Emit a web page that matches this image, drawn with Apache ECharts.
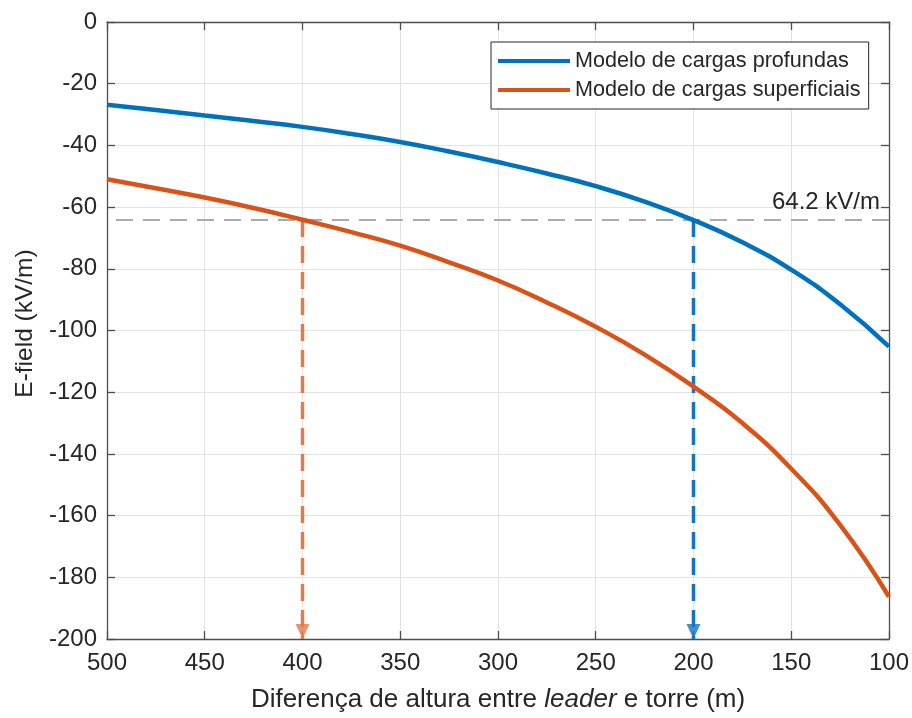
<!DOCTYPE html>
<html>
<head>
<meta charset="utf-8">
<script src="https://cdn.jsdelivr.net/npm/echarts@6/dist/echarts.min.js"></script>
<style>html,body{margin:0;padding:0;background:#fff}#c{width:912px;height:718px}</style>
</head>
<body>
<div id="c"></div>
<script>
// Data
const heights = [500, 475, 450, 425, 400, 375, 350, 325, 300, 275, 250, 225, 200, 175, 150, 125, 100];
const deepModel = [-26.8, -28.5, -30.3, -32.1, -34.0, -36.3, -38.9, -42.0, -45.4, -49.1, -53.2, -58.2, -64.2, -71.4, -80.3, -91.5, -105.2];
const surfaceModel = [-51.0, -53.9, -56.9, -60.3, -64.1, -68.1, -72.5, -77.9, -83.8, -90.9, -98.8, -107.8, -118.2, -130.0, -144.8, -163.0, -186.3];
const seriesNames = ['Modelo de cargas profundas', 'Modelo de cargas superficiais'];
const threshold = -64.2;
const thresholdLabel = '64.2 kV/m';
const crossSurface = 400;
const crossDeep = 200;
const xTicks = [500, 450, 400, 350, 300, 250, 200, 150, 100];
const yTicks = [0, -20, -40, -60, -80, -100, -120, -140, -160, -180, -200];

const xMin = Math.min(...xTicks), xMax = Math.max(...xTicks);
const yMin = Math.min(...yTicks), yMax = Math.max(...yTicks);

const BLUE = '#0072BD', ORANGE = '#D95319';
const BLUE_D = '#1574C0', ORANGE_D = '#E27A4A';
const TXT = '#262626', AX = '#4d4d4d';
const FONT = '"Liberation Sans", Arial, Helvetica, sans-serif';

const chart = echarts.init(document.getElementById('c'));

const baseX = {
  type: 'value', min: xMin, max: xMax, interval: 50, inverse: true,
  axisLine: {show: true, onZero: false, lineStyle: {color: AX, width: 1.3}},
  axisTick: {show: true, inside: true, length: 8, lineStyle: {color: AX, width: 1.3}},
};
const baseY = {
  type: 'value', min: yMin, max: yMax, interval: 20,
  axisLine: {show: true, onZero: false, lineStyle: {color: AX, width: 1.3}},
  axisTick: {show: true, inside: true, length: 8, lineStyle: {color: AX, width: 1.3}},
};

const option = {
  animation: false,
  backgroundColor: '#fff',
  textStyle: {fontFamily: FONT},
  grid: {left: 107, right: 23, top: 22, bottom: 76, containLabel: false},
  xAxis: [
    Object.assign({}, baseX, {
      position: 'bottom',
      axisLabel: {color: TXT, fontSize: 24, margin: 12, fontFamily: FONT},
      splitLine: {show: true, lineStyle: {color: '#e3e3e3', width: 1}},
      name: 'Diferença de altura entre {i|leader} e torre (m)',
      nameLocation: 'middle', nameGap: 48,
      nameTextStyle: {color: TXT, fontSize: 26, fontFamily: FONT,
        rich: {i: {fontStyle: 'italic', fontSize: 26, color: TXT, fontFamily: FONT}}}
    }),
    Object.assign({}, baseX, {
      position: 'top', axisLabel: {show: false}, splitLine: {show: false}
    })
  ],
  yAxis: [
    Object.assign({}, baseY, {
      position: 'left',
      axisLabel: {color: TXT, fontSize: 24, margin: 10, fontFamily: FONT},
      splitLine: {show: true, lineStyle: {color: '#e3e3e3', width: 1}},
      name: 'E-field (kV/m)', nameLocation: 'middle', nameGap: 57,
      nameTextStyle: {color: TXT, fontSize: 24.5, fontFamily: FONT, padding: [0, 0, 0, 14]}
    }),
    Object.assign({}, baseY, {
      position: 'right', axisLabel: {show: false}, splitLine: {show: false}
    })
  ],
  legend: {
    data: seriesNames,
    orient: 'vertical', left: 491, top: 42,
    icon: 'rect', itemWidth: 72, itemHeight: 4, itemGap: 7,
    padding: [8, 8, 8, 7],
    borderColor: '#262626', borderWidth: 1, backgroundColor: '#fff',
    textStyle: {color: TXT, fontSize: 21.6, fontFamily: FONT, padding: [0, 0, 0, 0]}
  },
  series: [
    {
      name: '__threshold', type: 'line', silent: true, symbol: 'none', z: 1,
      data: [],
      markLine: {
        silent: true, symbol: 'none', animation: false,
        lineStyle: {color: '#ababab', width: 2, type: [17, 10]},
        label: {show: true, position: 'insideStartTop', formatter: thresholdLabel,
          color: TXT, fontSize: 24, fontFamily: FONT, distance: [9, 6]},
        data: [{yAxis: threshold}]
      }
    },
    {
      name: '__dropSurface', type: 'line', silent: true, symbol: 'none', z: 3,
      data: [[crossSurface, threshold], [crossSurface, yMin]],
      lineStyle: {color: ORANGE_D, width: 3.5, type: [17, 9]}
    },
    {
      name: '__dropDeep', type: 'line', silent: true, symbol: 'none', z: 3,
      data: [[crossDeep, threshold], [crossDeep, yMin]],
      lineStyle: {color: BLUE_D, width: 3.5, type: [17, 9]}
    },
    {
      name: '__arrowSurface', type: 'scatter', silent: true, z: 4,
      symbol: 'triangle', symbolRotate: 180, symbolSize: [14, 15], symbolOffset: [0, -7.5],
      itemStyle: {color: ORANGE_D},
      data: [[crossSurface, yMin]]
    },
    {
      name: '__arrowDeep', type: 'scatter', silent: true, z: 4,
      symbol: 'triangle', symbolRotate: 180, symbolSize: [14, 15], symbolOffset: [0, -7.5],
      itemStyle: {color: BLUE_D},
      data: [[crossDeep, yMin]]
    },
    {
      name: seriesNames[0], type: 'line', smooth: 0.5, symbol: 'none', z: 5,
      data: heights.map((h, i) => [h, deepModel[i]]),
      color: BLUE, lineStyle: {color: BLUE, width: 4.5}
    },
    {
      name: seriesNames[1], type: 'line', smooth: 0.5, symbol: 'none', z: 5,
      data: heights.map((h, i) => [h, surfaceModel[i]]),
      color: ORANGE, lineStyle: {color: ORANGE, width: 4.5}
    }
  ]
};
chart.setOption(option);
</script>
</body>
</html>
